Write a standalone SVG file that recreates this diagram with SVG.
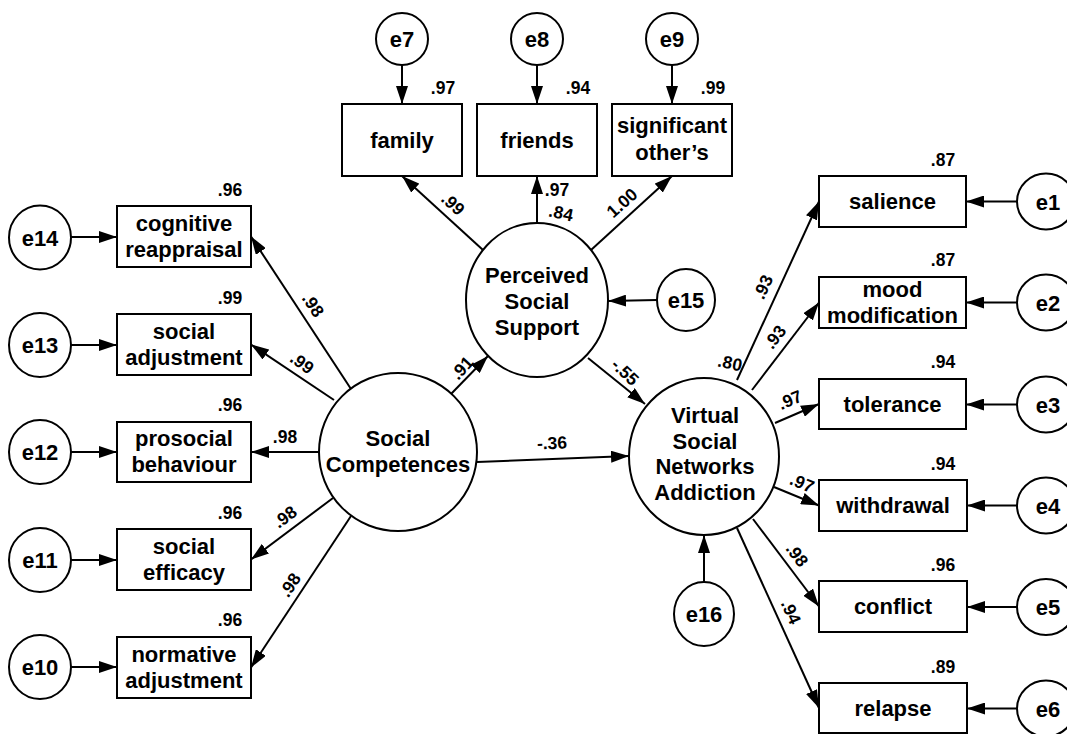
<svg xmlns="http://www.w3.org/2000/svg" width="1067" height="734" viewBox="0 0 1067 734">
<style>
text{font-family:"Liberation Sans",Arial,sans-serif;font-weight:bold;fill:#000}
.t{font-size:22px;text-anchor:middle}
.n{font-size:17.5px;text-anchor:middle}
.b{fill:#fff;stroke:#000;stroke-width:2}
.c{stroke:#000;stroke-width:2;fill:none;marker-end:url(#ah)}
</style>
<defs>
<marker id="ah" markerUnits="userSpaceOnUse" viewBox="0 0 18 12" refX="18" refY="6" markerWidth="18" markerHeight="12" orient="auto">
<path d="M0,0 L18,6 L0,12 Z" fill="#000"/>
</marker>
</defs>
<rect width="1067" height="734" fill="#fff"/>
<g id="connectors">
<line class="c" x1="402" y1="65" x2="402" y2="104"/>
<line class="c" x1="537" y1="65" x2="537" y2="104"/>
<line class="c" x1="672" y1="65" x2="672" y2="104"/>
<line class="c" x1="483" y1="250" x2="402" y2="176"/>
<line class="c" x1="537" y1="223" x2="537" y2="176"/>
<line class="c" x1="591" y1="250" x2="672" y2="176"/>
<line class="c" x1="657" y1="300" x2="608" y2="301"/>
<line class="c" x1="451" y1="394" x2="488" y2="356"/>
<line class="c" x1="588" y1="358" x2="645" y2="404"/>
<line class="c" x1="477" y1="462" x2="629" y2="456"/>
<line class="c" x1="704" y1="582" x2="704" y2="535"/>
<line class="c" x1="351" y1="389" x2="251" y2="236.5"/>
<line class="c" x1="334" y1="400" x2="251" y2="344.5"/>
<line class="c" x1="319" y1="452" x2="251" y2="452"/>
<line class="c" x1="333" y1="498" x2="251" y2="559.5"/>
<line class="c" x1="351" y1="516" x2="251" y2="667.5"/>
<line class="c" x1="71" y1="237" x2="117" y2="237"/>
<line class="c" x1="71" y1="345" x2="117" y2="345"/>
<line class="c" x1="71" y1="452" x2="117" y2="452"/>
<line class="c" x1="71" y1="560" x2="117" y2="560"/>
<line class="c" x1="71" y1="667" x2="117" y2="667"/>
<line class="c" x1="737" y1="380" x2="819" y2="201.5"/>
<line class="c" x1="752" y1="390" x2="819" y2="302.5"/>
<line class="c" x1="775" y1="423" x2="819" y2="404"/>
<line class="c" x1="774" y1="487" x2="819" y2="505.5"/>
<line class="c" x1="753" y1="519" x2="819" y2="606.5"/>
<line class="c" x1="737" y1="528" x2="819" y2="708"/>
<line class="c" x1="1017" y1="201.5" x2="966" y2="201.5"/>
<line class="c" x1="1017" y1="302.5" x2="966" y2="302.5"/>
<line class="c" x1="1017" y1="404.5" x2="966" y2="404.5"/>
<line class="c" x1="1017" y1="505.5" x2="967" y2="505.5"/>
<line class="c" x1="1017" y1="607" x2="967" y2="607"/>
<line class="c" x1="1017" y1="708.5" x2="967" y2="708.5"/>
<g id="path-labels">
<text class="n" transform="translate(453,204) rotate(42.5)" dy="6">.99</text>
<text class="n" transform="translate(557,190)" dy="6">.97</text>
<text class="n" transform="translate(561,213) rotate(12)" dy="6">.84</text>
<text class="n" transform="translate(622,203) rotate(-42)" dy="6">1.00</text>
<text class="n" transform="translate(313,305) rotate(56)" dy="6">.98</text>
<text class="n" transform="translate(302,363) rotate(36)" dy="6">.99</text>
<text class="n" transform="translate(285,437)" dy="6">.98</text>
<text class="n" transform="translate(285,517) rotate(-36.5)" dy="6">.98</text>
<text class="n" transform="translate(290,585) rotate(-56)" dy="6">.98</text>
<text class="n" transform="translate(462,368) rotate(-47.6)" dy="6">.91</text>
<text class="n" transform="translate(552,443) rotate(-2)" dy="6">-.36</text>
<text class="n" transform="translate(625,372) rotate(43.6)" dy="6">-.55</text>
<text class="n" transform="translate(730,363) rotate(12)" dy="6">.80</text>
<text class="n" transform="translate(763,287) rotate(-65.5)" dy="6">.93</text>
<text class="n" transform="translate(775,337) rotate(-52.6)" dy="6">.93</text>
<text class="n" transform="translate(790,400) rotate(-23)" dy="6">.97</text>
<text class="n" transform="translate(802,483) rotate(22.8)" dy="6">.97</text>
<text class="n" transform="translate(797,555) rotate(53.4)" dy="6">.98</text>
<text class="n" transform="translate(791,612) rotate(65.8)" dy="6">.94</text>
</g>
</g>
<g id="e7"><ellipse class="b" cx="402" cy="39" rx="26" ry="26"/><text class="t" x="402" y="47">e7</text></g>
<g id="e8"><ellipse class="b" cx="537" cy="39" rx="26" ry="26"/><text class="t" x="537" y="47">e8</text></g>
<g id="e9"><ellipse class="b" cx="672" cy="39" rx="26" ry="26"/><text class="t" x="672" y="47">e9</text></g>
<g id="family"><rect class="b" x="342" y="104" width="120" height="72"/><text class="t" x="402" y="148">family</text><text class="n" x="443" y="94">.97</text></g>
<g id="friends"><rect class="b" x="477" y="104" width="120" height="72"/><text class="t" x="537" y="148">friends</text><text class="n" x="578" y="94">.94</text></g>
<g id="significant"><rect class="b" x="612" y="104" width="120" height="72"/><text class="t" x="672" y="133">significant</text><text class="t" x="672" y="160">other’s</text><text class="n" x="713" y="94">.99</text></g>
<g id="pss"><ellipse class="b" cx="537" cy="300" rx="71" ry="77"/><text class="t" x="537" y="283">Perceived</text><text class="t" x="537" y="309">Social</text><text class="t" x="537" y="335">Support</text></g>
<g id="e15"><ellipse class="b" cx="686" cy="300" rx="29" ry="31"/><text class="t" x="686" y="308">e15</text></g>
<g id="sc"><ellipse class="b" cx="398" cy="452" rx="79" ry="79"/><text class="t" x="398" y="446">Social</text><text class="t" x="398" y="472">Competences</text></g>
<g id="vsna"><ellipse class="b" cx="704" cy="456.5" rx="75" ry="78.5"/><text class="t" x="705" y="423">Virtual</text><text class="t" x="705" y="449">Social</text><text class="t" x="705" y="474">Networks</text><text class="t" x="705" y="500">Addiction</text></g>
<g id="e16"><ellipse class="b" cx="704" cy="614" rx="30" ry="32"/><text class="t" x="704" y="622">e16</text></g>
<g id="cognitive"><rect class="b" x="117" y="206" width="134" height="61"/><text class="t" x="184" y="231">cognitive</text><text class="t" x="184" y="257">reappraisal</text><text class="n" x="230" y="196">.96</text></g>
<g id="socadj"><rect class="b" x="117" y="314" width="134" height="61"/><text class="t" x="184" y="339">social</text><text class="t" x="184" y="365">adjustment</text><text class="n" x="230" y="304">.99</text></g>
<g id="prosocial"><rect class="b" x="117" y="422" width="134" height="60"/><text class="t" x="184" y="446">prosocial</text><text class="t" x="184" y="472">behaviour</text><text class="n" x="230" y="411">.96</text></g>
<g id="efficacy"><rect class="b" x="117" y="529" width="134" height="61"/><text class="t" x="184" y="554">social</text><text class="t" x="184" y="580">efficacy</text><text class="n" x="230" y="519">.96</text></g>
<g id="normative"><rect class="b" x="117" y="637" width="134" height="61"/><text class="t" x="184" y="662">normative</text><text class="t" x="184" y="688">adjustment</text><text class="n" x="230" y="626">.96</text></g>
<g id="e14"><ellipse class="b" cx="40" cy="237.5" rx="31" ry="32"/><text class="t" x="40" y="245.5">e14</text></g>
<g id="e13"><ellipse class="b" cx="40" cy="345" rx="31" ry="32"/><text class="t" x="40" y="353">e13</text></g>
<g id="e12"><ellipse class="b" cx="40" cy="452" rx="31" ry="32"/><text class="t" x="40" y="460">e12</text></g>
<g id="e11"><ellipse class="b" cx="40" cy="560" rx="31" ry="32"/><text class="t" x="40" y="568">e11</text></g>
<g id="e10"><ellipse class="b" cx="40" cy="667" rx="31" ry="32"/><text class="t" x="40" y="675">e10</text></g>
<g id="salience"><rect class="b" x="819" y="176" width="147" height="51"/><text class="t" x="892.5" y="209">salience</text><text class="n" x="943" y="166">.87</text></g>
<g id="mood"><rect class="b" x="819" y="277" width="147" height="51"/><text class="t" x="892.5" y="297">mood</text><text class="t" x="892.5" y="323">modification</text><text class="n" x="943" y="266">.87</text></g>
<g id="tolerance"><rect class="b" x="819" y="379" width="147" height="50"/><text class="t" x="892.5" y="412">tolerance</text><text class="n" x="943" y="368">.94</text></g>
<g id="withdrawal"><rect class="b" x="819" y="480" width="148" height="51"/><text class="t" x="893" y="513">withdrawal</text><text class="n" x="943" y="470">.94</text></g>
<g id="conflict"><rect class="b" x="819" y="581" width="148" height="51"/><text class="t" x="893" y="614">conflict</text><text class="n" x="943" y="571">.96</text></g>
<g id="relapse"><rect class="b" x="819" y="683" width="148" height="50"/><text class="t" x="893" y="716">relapse</text><text class="n" x="943" y="673">.89</text></g>
<g id="e1"><ellipse class="b" cx="1046" cy="201.5" rx="29" ry="28"/><text class="t" x="1048" y="209.5">e1</text></g>
<g id="e2"><ellipse class="b" cx="1046" cy="302.5" rx="29" ry="28"/><text class="t" x="1048" y="310.5">e2</text></g>
<g id="e3"><ellipse class="b" cx="1046" cy="404.5" rx="29" ry="28"/><text class="t" x="1048" y="412.5">e3</text></g>
<g id="e4"><ellipse class="b" cx="1046" cy="505.5" rx="29" ry="28"/><text class="t" x="1048" y="513.5">e4</text></g>
<g id="e5"><ellipse class="b" cx="1046" cy="607" rx="29" ry="28"/><text class="t" x="1048" y="615">e5</text></g>
<g id="e6"><ellipse class="b" cx="1046" cy="708.5" rx="29" ry="28"/><text class="t" x="1048" y="716.5">e6</text></g>
</svg>
